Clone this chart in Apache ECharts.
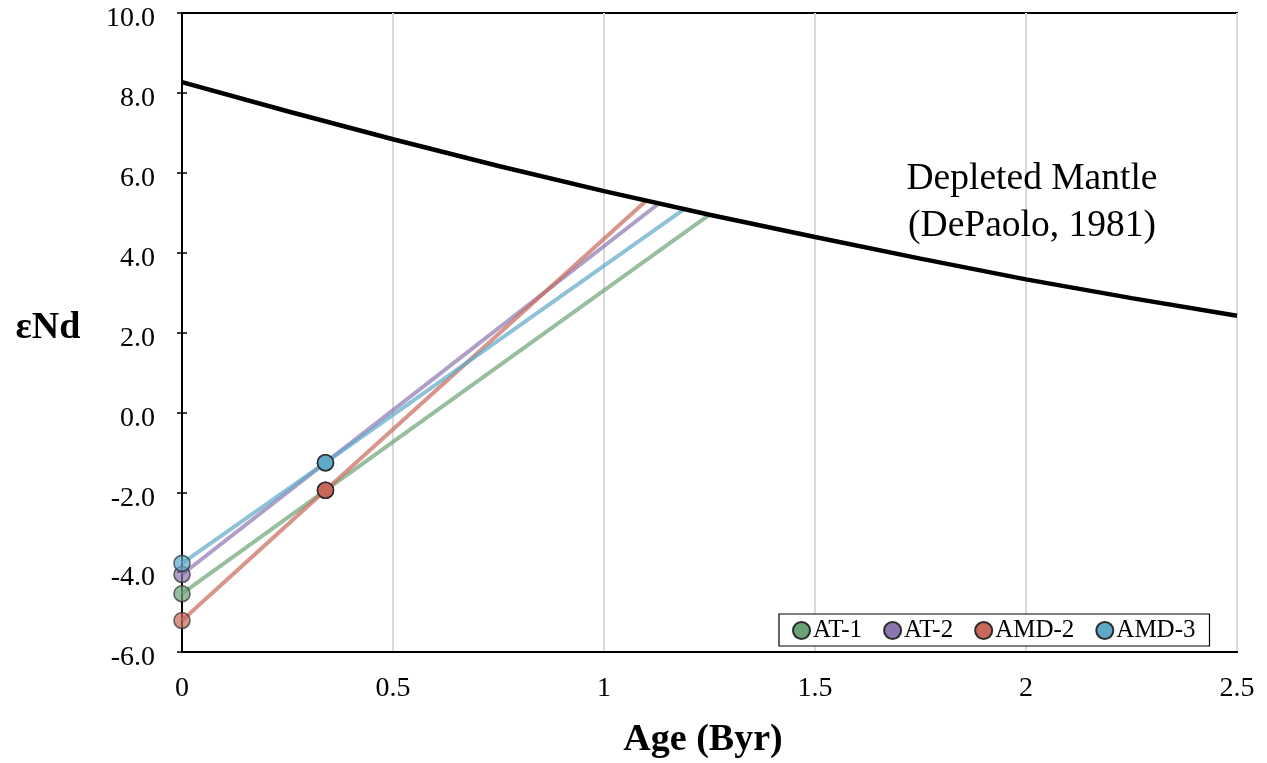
<!DOCTYPE html>
<html>
<head>
<meta charset="utf-8">
<script src="https://cdn.jsdelivr.net/npm/echarts@6/dist/echarts.min.js"></script>
<style>
  html, body { margin: 0; padding: 0; background: #ffffff; }
  #chart { width: 1267px; height: 763px; }
</style>
</head>
<body>
<div id="chart"></div>
<script>
// Depleted mantle evolution curve (DePaolo, 1981): age in Byr vs εNd
const dmAge = [0, 0.25, 0.5, 0.75, 1.0, 1.25, 1.5, 1.75, 2.0, 2.25, 2.5];
const dmEps = [8.27, 7.54, 6.84, 6.17, 5.54, 4.95, 4.39, 3.85, 3.33, 2.86, 2.42];

// Samples: present-day εNd, εNd at the 0.34 Byr age, and model age on the depleted mantle
const sampleNames = ['AT-1', 'AT-2', 'AMD-2', 'AMD-3'];
const presentEps  = [-4.54, -4.06, -5.21, -3.78];
const ageT        = 0.34;
const epsAtT      = [-1.95, -1.26, -1.95, -1.26];
const tdmAge      = [1.25, 1.13, 1.10, 1.19];
const tdmEps      = [4.95, 5.23, 5.30, 5.09];

// Axis ticks
const yTicks = { min: -6, max: 10, step: 2 };
const xTicks = { min: 0, max: 2.5, step: 0.5 };

const sampleColors = ['#6aa276', '#8d76b0', '#c8685a', '#5ea8c8'];
const FONT = '"Liberation Serif", "Times New Roman", Times, serif';

const sampleSeries = sampleNames.map((name, i) => ({
  name: name,
  type: 'line',
  z: 3 + i,
  symbol: 'circle',
  symbolSize: 16,
  showAllSymbol: true,
  lineStyle: { color: sampleColors[i], width: 4, opacity: 0.7 },
  itemStyle: { color: sampleColors[i], borderColor: '#2b2b2b', borderWidth: 1.6 },
  emphasis: { disabled: true },
  data: [
    { value: [0, presentEps[i]], itemStyle: { opacity: 0.7 } },
    { value: [ageT, epsAtT[i]] },
    { value: [tdmAge[i], tdmEps[i]], symbol: 'none' }
  ]
}));

const chart = echarts.init(document.getElementById('chart'), null, { renderer: 'canvas' });

chart.setOption({
  animation: false,
  backgroundColor: '#ffffff',
  textStyle: { fontFamily: FONT },
  grid: {
    left: 182, right: 30, top: 13, bottom: 111,
    outerBoundsMode: 'none',
    show: true, borderColor: '#000', borderWidth: 2, backgroundColor: 'transparent'
  },
  xAxis: {
    type: 'value',
    min: xTicks.min, max: xTicks.max, interval: xTicks.step,
    axisLine: { show: true, onZero: false, lineStyle: { color: '#000', width: 2 } },
    axisTick: { show: false },
    splitLine: { show: true, lineStyle: { color: '#d9d9d9', width: 2 } },
    axisLabel: { color: '#000', fontSize: 28, fontFamily: FONT, margin: 23,
                 formatter: v => String(v) }
  },
  yAxis: [
    {
      type: 'value',
      min: yTicks.min, max: yTicks.max, interval: yTicks.step,
      axisLine: { show: true, onZero: false, lineStyle: { color: '#000', width: 2 } },
      axisTick: { show: true, length: 5, lineStyle: { color: '#000', width: 1.5 } },
      splitLine: { show: false },
      axisLabel: { color: '#000', fontSize: 28, fontFamily: FONT, margin: 27,
                   verticalAlign: 'top', lineHeight: 12,
                   formatter: v => v.toFixed(1) }
    },
    {
      type: 'value', position: 'left',
      min: yTicks.min, max: yTicks.max, interval: yTicks.step,
      axisLine: { show: false, onZero: false },
      axisTick: { show: true, inside: true, length: 5, lineStyle: { color: '#000', width: 1.5 } },
      splitLine: { show: false },
      axisLabel: { show: false }
    }
  ],
  legend: {
    data: sampleNames,
    left: 779, top: 614,
    orient: 'horizontal',
    icon: 'circle',
    itemWidth: 17, itemHeight: 17,
    itemGap: 21,
    padding: [4, 14, 3, 13],
    borderColor: '#000', borderWidth: 1.2,
    backgroundColor: '#fff',
    textStyle: { color: '#000', fontSize: 25, fontFamily: FONT, padding: [0, 0, 0, -2] },
    selectedMode: false
  },
  series: [
    {
      name: 'Depleted Mantle',
      type: 'line',
      z: 10,
      symbol: 'none',
      lineStyle: { color: '#000', width: 4.5 },
      emphasis: { disabled: true },
      data: dmAge.map((a, i) => [a, dmEps[i]])
    }
  ].concat(sampleSeries),
  graphic: [
    {
      type: 'text', x: 1032, y: 203, z: 20,
      style: {
        text: 'Depleted Mantle\n(DePaolo, 1981)',
        font: '37.5px ' + FONT, fill: '#000',
        align: 'center', verticalAlign: 'middle', lineHeight: 47
      }
    },
    {
      type: 'text', x: 703, y: 740, z: 20,
      style: {
        text: 'Age (Byr)',
        font: 'bold 38px ' + FONT, fill: '#000',
        align: 'center', verticalAlign: 'middle'
      }
    },
    {
      type: 'text', x: 48, y: 328, z: 20,
      style: {
        text: 'εNd',
        font: 'bold 38px ' + FONT, fill: '#000',
        align: 'center', verticalAlign: 'middle'
      }
    }
  ]
});
</script>
</body>
</html>
